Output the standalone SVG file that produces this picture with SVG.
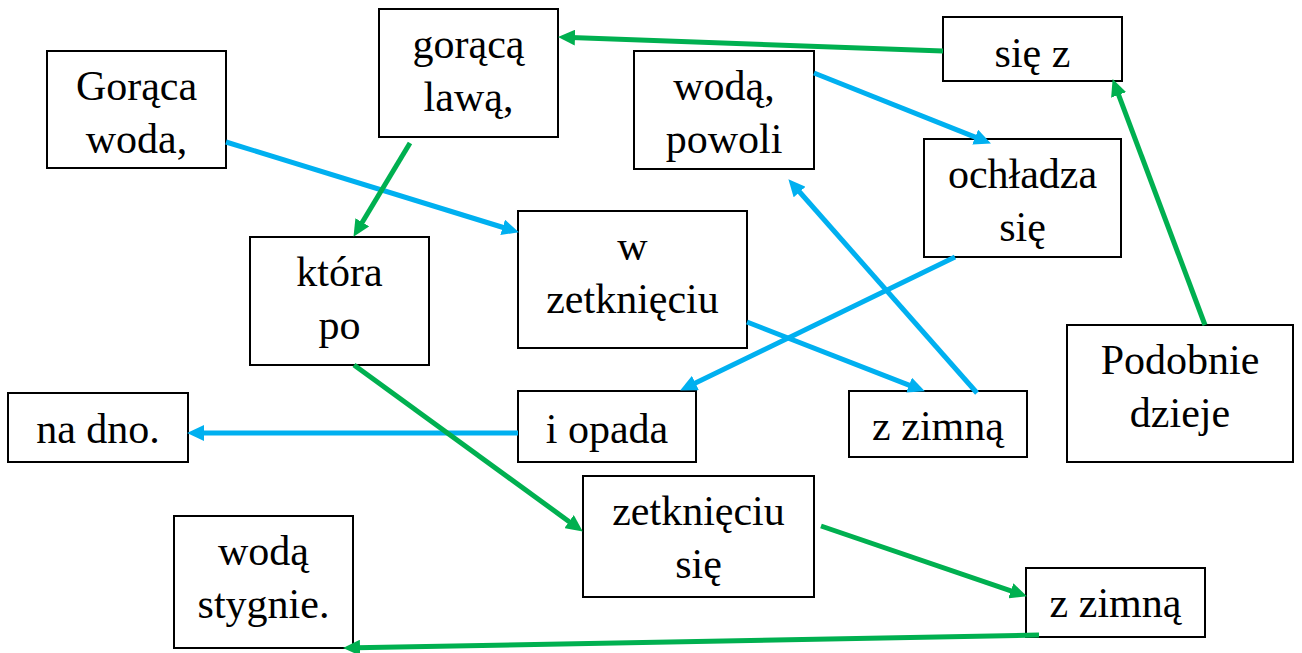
<svg xmlns="http://www.w3.org/2000/svg" width="1302" height="653" viewBox="0 0 1302 653">
<defs>
<style>
rect.box{fill:#fff;stroke:#000;stroke-width:2}
text{fill:#000;text-anchor:middle}
</style>
<marker id="ab" markerUnits="userSpaceOnUse" markerWidth="18" markerHeight="16" refX="4" refY="8" orient="auto"><path d="M0,0 L17,8 L0,16 z" fill="#00B0F0"/></marker>
<marker id="ag" markerUnits="userSpaceOnUse" markerWidth="18" markerHeight="16" refX="4" refY="8" orient="auto"><path d="M0,0 L17,8 L0,16 z" fill="#00B050"/></marker>
</defs>
<rect width="1302" height="653" fill="#fff"/>
<g id="nodes" font-family="'Liberation Serif', 'Times New Roman', serif" font-size="42">
<g id="n1"><rect class="box" x="47" y="51" width="179" height="117"/><text x="136.5" y="100">Gorąca</text><text x="136.5" y="153">woda,</text></g>
<g id="n2"><rect class="box" x="379" y="9" width="179" height="128"/><text x="468.5" y="58">gorącą</text><text x="468.5" y="111">lawą,</text></g>
<g id="n3"><rect class="box" x="634" y="51" width="180" height="118"/><text x="724" y="100">wodą,</text><text x="724" y="153">powoli</text></g>
<g id="n4"><rect class="box" x="943" y="17" width="179" height="64"/><text x="1032.5" y="67">się z</text></g>
<g id="n5"><rect class="box" x="924" y="139" width="197" height="118"/><text x="1022.5" y="188">ochładza</text><text x="1022.5" y="241">się</text></g>
<g id="n6"><rect class="box" x="518" y="211" width="229" height="137"/><text x="632.5" y="260">w</text><text x="632.5" y="313">zetknięciu</text></g>
<g id="n7"><rect class="box" x="250" y="237" width="179" height="128"/><text x="339.5" y="286">która</text><text x="339.5" y="339">po</text></g>
<g id="n8"><rect class="box" x="1067" y="325" width="226" height="137"/><text x="1180" y="374">Podobnie</text><text x="1180" y="427">dzieje</text></g>
<g id="n9"><rect class="box" x="8" y="393" width="180" height="69"/><text x="98" y="443">na dno.</text></g>
<g id="n10"><rect class="box" x="518" y="391" width="178" height="71"/><text x="607" y="443">i opada</text></g>
<g id="n11"><rect class="box" x="849" y="391" width="178" height="66"/><text x="938" y="440">z zimną</text></g>
<g id="n12"><rect class="box" x="583" y="476" width="231" height="121"/><text x="698.5" y="525">zetknięciu</text><text x="698.5" y="578">się</text></g>
<g id="n13"><rect class="box" x="174" y="516" width="179" height="132"/><text x="263.5" y="565">wodą</text><text x="263.5" y="618">stygnie.</text></g>
<g id="n14"><rect class="box" x="1026" y="568" width="179" height="69"/><text x="1115.5" y="617">z zimną</text></g>
</g>
<g id="connectors" fill="none" stroke-width="5">
<line stroke="#00B0F0" x1="226" y1="142" x2="506.5" y2="228.5" marker-end="url(#ab)"/>
<line stroke="#00B050" x1="410" y1="143" x2="360.2" y2="225.7" marker-end="url(#ag)"/>
<line stroke="#00B050" x1="943" y1="51" x2="571" y2="37.4" marker-end="url(#ag)"/>
<line stroke="#00B0F0" x1="814" y1="73" x2="978.9" y2="138.6" marker-end="url(#ab)"/>
<line stroke="#00B0F0" x1="977" y1="393" x2="797" y2="189" marker-end="url(#ab)"/>
<line stroke="#00B050" x1="1205" y1="325" x2="1117.2" y2="91.2" marker-end="url(#ag)"/>
<line stroke="#00B0F0" x1="955" y1="257" x2="691.8" y2="384.8" marker-end="url(#ab)"/>
<line stroke="#00B0F0" x1="747" y1="322" x2="912.8" y2="386.6" marker-end="url(#ab)"/>
<line stroke="#00B0F0" x1="518" y1="433" x2="200" y2="433" marker-end="url(#ab)"/>
<line stroke="#00B050" x1="354" y1="365" x2="572.3" y2="523.9" marker-end="url(#ag)"/>
<line stroke="#00B050" x1="821" y1="526" x2="1014.6" y2="592.1" marker-end="url(#ag)"/>
<line stroke="#00B050" x1="1039" y1="635" x2="356" y2="647.8" marker-end="url(#ag)"/>
</g>
</svg>
